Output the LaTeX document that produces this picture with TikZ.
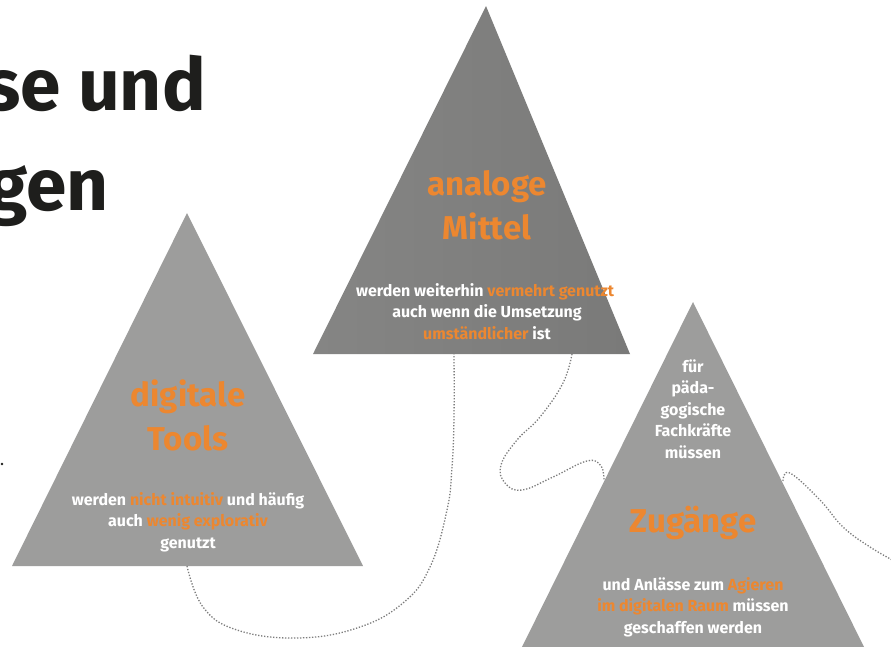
\documentclass[tikz,border=0pt]{standalone}
\usepackage{fontspec}
\setmainfont{Fira Sans}
\definecolor{pyrgrey}{RGB}{157,157,156}
\definecolor{pyrlight}{RGB}{133,133,132}
\definecolor{pyrdark}{RGB}{122,122,121}
\definecolor{accent}{RGB}{236,135,48}
\definecolor{dotgrey}{RGB}{125,125,125}
\definecolor{titleblack}{RGB}{30,30,28}
\newcommand{\hl}[1]{\textcolor{accent}{#1}}
\tikzset{
  pyramid/.style={fill=pyrgrey},
  headline/.style={anchor=base east, inner sep=0pt, text=titleblack, font=\fontsize{73}{90}\selectfont\bfseries},
  keyword/.style={anchor=base, inner sep=0pt, align=center, text=accent, font=\fontsize{33}{44}\selectfont\bfseries},
  remark/.style={anchor=base, inner sep=0pt, align=center, text=white, font=\fontsize{16}{21.5}\selectfont\bfseries},
  link/.style={draw=dotgrey, line width=1.3pt, dash pattern=on 1.3pt off 1.7pt},
}

\begin{document}
\begin{tikzpicture}[x=1pt, y=-1pt]
    \useasboundingbox (0,0) rectangle (891,646);
    \fill[white] (0,0) rectangle (891,646);

    % heading, cut at the left edge
    \node[headline] (headA) at (206,110) {se und};
    \node[headline] (headB) at (109,210) {gen};
    \fill[titleblack] (2,464) circle (1.3);

    % pyramids
    \fill[pyramid] (187,213) -- (363,566) coordinate (toolsR) -- (12,566) coordinate (toolsL) -- cycle;
    \shade[left color=pyrlight, right color=pyrdark] (486,6) -- (630,354) -- (313,354) -- cycle;
    \fill[pyramid] (693,302) -- (866.5,652) -- (519.5,652) -- cycle;

    \coordinate (toolsfoot) at (187,566);
    \coordinate (mittelfootA) at (454,354);
    \coordinate (mittelfootB) at (572,354);
    \coordinate (zugangL) at (604,481);
    \coordinate (zugangR) at (783,481);
    \coordinate (randR) at (896,562);

    % texts (anchored at the baseline of the last line)
    \node[keyword] (tools) at (188,450) {digitale\\Tools};
    \node[remark] (toolsnote) at (188,548) {werden \hl{nicht intuitiv} und häufig\\auch \hl{wenig explorativ}\\genutzt};
    \node[keyword] (mittel) at (487,239) {analoge\\Mittel};
    \node[remark] (mittelnote) at (487,339) {werden weiterhin \hl{vermehrt genutzt},\\auch wenn die Umsetzung\\\hl{umständlicher} ist};
    \node[remark] (fuer) at (693,458) {für\\päda-\\gogische\\Fachkräfte\\müssen};
    \node[keyword] (zugang) at (693,532) {Zugänge};
    \node[remark] (zugangnote) at (693,633) {und Anlässe zum \hl{Agieren}\\\hl{im digitalen Raum} müssen\\geschaffen werden};

    % dotted paths
    \draw[link] plot[smooth, tension=0.7] coordinates {(toolsfoot) (203,607) (237,630) (297,638) (357,628) (403,603) (430,567) (447,510) (452,467) (454,417) (mittelfootA)};
    \draw[link] plot[smooth, tension=0.7] coordinates {(mittelfootB) (563,383) (540,417) (517,440) (501,465) (505,483) (522,490) (553,477) (587,461) (601,466) (zugangL)};
    \draw[link] plot[smooth, tension=0.7] coordinates {(zugangR) (790,473) (820,500) (843,527) (870,547) (randR)};
\end{tikzpicture}
\end{document}
